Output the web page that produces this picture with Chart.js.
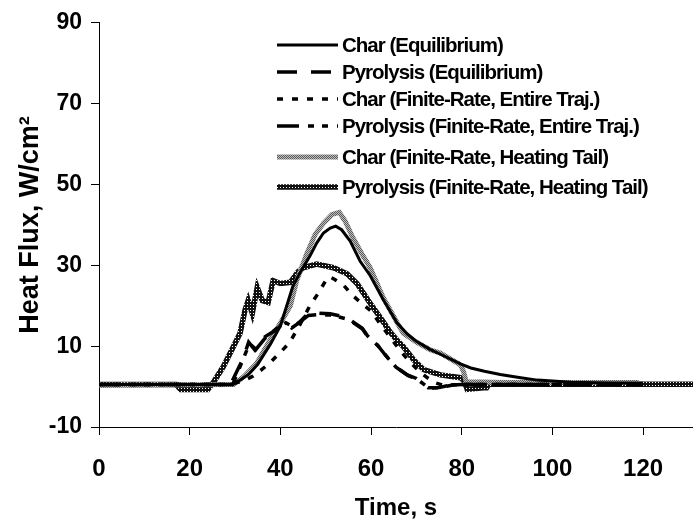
<!DOCTYPE html>
<html>
<head>
<meta charset="utf-8">
<script src="https://cdn.jsdelivr.net/npm/chart.js@4"></script>
<style>
  body { margin: 0; background: #fff; }
  canvas { display: block; }
</style>
</head>
<body>
<canvas id="graficaFlujo" width="693" height="526"></canvas>
<script>
// series labels
const seriesLabels = [
    'Char (Equilibrium)',
    'Pyrolysis (Equilibrium)',
    'Char (Finite-Rate, Entire Traj.)',
    'Pyrolysis (Finite-Rate, Entire Traj.)',
    'Char (Finite-Rate, Heating Tail)',
    'Pyrolysis (Finite-Rate, Heating Tail)'
];

// time (s) and heat flux (W/cm2) for each series
const charEqTime = [0, 29, 31, 33, 35, 37.8, 40, 42.8, 44.5, 46.6, 48, 49.5, 51, 52.2, 53.5, 55.4, 57.6, 59.8, 62.7, 65.7, 68, 70, 73, 75.3, 79.7, 82, 85, 88.5, 93, 96.7, 100, 104, 112, 120];
const charEqFlux = [0.5, 0.5, 1.5, 3, 5.5, 10.5, 15, 25, 28.5, 32.5, 35.5, 38, 39.2, 39.7, 38.8, 36, 31, 27.5, 21.5, 15.8, 13, 11.2, 9.2, 8, 5.6, 4.6, 3.8, 3.0, 2.2, 1.6, 1.4, 1.1, 0.9, 0.8];

const pyroEqTime = [0, 29, 31.8, 33, 34.4, 36.6, 39, 41, 42.5, 44, 46, 48, 51, 53, 55, 58, 59, 61.4, 63, 65.3, 68, 70, 72.6, 75, 78, 80, 120];
const pyroEqFlux = [0.5, 0.5, 7, 11, 9, 12.3, 14, 16, 14.5, 15.7, 18, 18.2, 18, 17.5, 16.8, 14.5, 12.8, 10.3, 8, 5, 2.9, 2.0, -0.3, -0.2, 0.5, 0.5, 0.5];

const charFrTime = [0, 29, 32, 34, 36, 38, 40, 42, 44.4, 46.5, 48, 49.9, 50.8, 52, 54, 56, 58, 60, 62, 64, 66, 68, 70, 72, 74, 76, 80, 120];
const charFrFlux = [0.5, 0.5, 1.5, 2.6, 4.3, 6.2, 8.5, 10.8, 15.5, 20, 22.5, 26, 27.2, 26.5, 25, 22.5, 20.5, 18.7, 15.5, 12.5, 9.5, 6.8, 4.5, 2.5, 1, 0.3, 0.5, 0.5];

const pyroFrTime = [0, 29.5, 32, 33.2, 34.6, 36.8, 39, 41.2, 42.7, 44.2, 46.2, 48, 51, 53, 55, 58.2, 59.2, 61.6, 63.2, 65.5, 68.2, 70.2, 72.8, 75, 78, 80, 120];
const pyroFrFlux = [0.5, 0.5, 7.4, 10.6, 9.2, 12.2, 14.2, 15.8, 14.8, 15.9, 17.6, 17.8, 17.7, 17.2, 16.6, 14.2, 12.6, 10, 7.8, 4.8, 2.7, 1.8, -0.4, -0.3, 0.4, 0.5, 0.5];

const charTailTime = [0, 29.6, 32, 34.8, 37.7, 40, 42.2, 43.6, 45.8, 47.7, 49.5, 51.4, 53, 54.3, 56, 58, 59.8, 62.7, 65.7, 67.1, 70, 73, 75.3, 79.7, 80.4, 81, 90, 100, 110, 119];
const charTailFlux = [0.3, 0.5, 2.5, 5.8, 11.5, 15.7, 20, 26.2, 32.8, 37.7, 40.4, 42.6, 43.1, 40.9, 36.8, 32.8, 29.4, 22, 15.9, 13.2, 11, 9.1, 8.3, 5.4, 3.7, 1.2, 1, 1, 1, 1];

const pyroTailTime = [0, 17, 18, 24, 25.2, 27.4, 29.6, 31.1, 32.2, 32.9, 33.8, 34.9, 36, 37.3, 38.4, 40, 42.2, 43.9, 45, 48, 51.7, 54.7, 56.9, 59.8, 62.7, 64.2, 65.7, 67.2, 69.4, 71.6, 75.3, 79.7, 80.5, 81.2, 84.8, 85.5, 86, 131];
const pyroTailFlux = [0.5, 0.5, -0.7, -0.7, 1, 4.9, 9.8, 13.2, 18.9, 21.3, 18.1, 24.5, 21.3, 20.8, 26.2, 25.5, 25.8, 28.4, 29.4, 30.3, 29.4, 27.9, 25.5, 20.6, 16, 13.5, 11.5, 9.8, 6.6, 4.2, 2.9, 2.2, 1.5, -0.7, -0.3, -0.3, 0.6, 0.6];

// axis ticks
const xTicks = [0, 20, 40, 60, 80, 100, 120];
const yTicks = [-10, 10, 30, 50, 70, 90];

function puntos(t, f) {
    return t.map((v, i) => ({ x: v, y: f[i] }));
}

// hatched line fills for the heating tail curves
function patron(size, paint) {
    const c = document.createElement('canvas');
    c.width = size;
    c.height = size;
    paint(c.getContext('2d'));
    return c.getContext('2d').createPattern(c, 'repeat');
}
const ctx = document.getElementById('graficaFlujo').getContext('2d');
const grisTramado = patron(2, g => {
    g.fillStyle = '#bdbdbd';
    g.fillRect(0, 0, 2, 2);
    g.fillStyle = '#5a5a5a';
    g.fillRect(0, 0, 1, 1);
    g.fillRect(1, 1, 1, 1);
});
const negroTramado = patron(3, g => {
    g.fillStyle = '#111111';
    g.fillRect(0, 0, 3, 3);
    g.fillStyle = '#ffffff';
    g.fillRect(1, 1, 1, 1);
});

// legend drawn inside the plot, top right
const leyenda = {
    id: 'leyenda',
    afterDatasetsDraw(chart) {
        const c = chart.ctx;
        const filas = [45, 72, 99, 126, 157, 187];
        c.save();
        chart.data.datasets.forEach((ds, i) => {
            const y = filas[i];
            c.beginPath();
            c.strokeStyle = ds.borderColor;
            c.lineWidth = ds.borderWidth;
            c.setLineDash(ds.borderDash || []);
            c.moveTo(277, y);
            c.lineTo(338, y);
            c.stroke();
            c.setLineDash([]);
            c.fillStyle = '#000';
            c.font = 'bold 20.5px "Liberation Sans", Arial';
            c.letterSpacing = '-1px';
            c.textBaseline = 'middle';
            c.fillText(ds.label, 342, y + 1);
            c.letterSpacing = '0px';
        });
        c.restore();
    }
};

const fuente = { family: '"Liberation Sans", Arial', weight: 'bold' };

new Chart(ctx, {
    type: 'line',
    data: {
        datasets: [
            {
                label: seriesLabels[0],
                data: puntos(charEqTime, charEqFlux),
                borderColor: '#000',
                borderWidth: 3
            },
            {
                label: seriesLabels[1],
                data: puntos(pyroEqTime, pyroEqFlux),
                borderColor: '#000',
                borderWidth: 3.5,
                borderDash: [20, 14]
            },
            {
                label: seriesLabels[2],
                data: puntos(charFrTime, charFrFlux),
                borderColor: '#000',
                borderWidth: 3.5,
                borderDash: [6, 9]
            },
            {
                label: seriesLabels[3],
                data: puntos(pyroFrTime, pyroFrFlux),
                borderColor: '#000',
                borderWidth: 3.5,
                borderDash: [22, 9, 6, 8, 6, 9]
            },
            {
                label: seriesLabels[4],
                data: puntos(charTailTime, charTailFlux),
                borderColor: grisTramado,
                borderWidth: 5
            },
            {
                label: seriesLabels[5],
                data: puntos(pyroTailTime, pyroTailFlux),
                borderColor: negroTramado,
                borderWidth: 5.5
            }
        ]
    },
    options: {
        responsive: false,
        animation: false,
        layout: { padding: { top: 19, right: 0, bottom: 0, left: 0 } },
        elements: {
            point: { radius: 0 },
            line: { tension: 0, fill: false, borderCapStyle: 'butt' }
        },
        plugins: {
            legend: { display: false },
            tooltip: { enabled: false }
        },
        scales: {
            x: {
                type: 'linear',
                min: 0,
                max: 131,
                afterBuildTicks: s => { s.ticks = xTicks.map(v => ({ value: v })); },
                afterFit: s => { s.height = 99; },
                grid: { drawOnChartArea: false, tickLength: 8, color: '#000' },
                border: { color: '#000', width: 1 },
                ticks: { color: '#000', padding: 20, maxRotation: 0, font: { ...fuente, size: 24 } },
                title: {
                    display: true,
                    text: 'Time, s',
                    color: '#000',
                    padding: { top: 0, bottom: 3 },
                    font: { ...fuente, size: 24 }
                }
            },
            y: {
                type: 'linear',
                min: -10,
                max: 90,
                afterBuildTicks: s => { s.ticks = yTicks.map(v => ({ value: v })); },
                afterFit: s => { s.width = 99; },
                grid: { drawOnChartArea: false, tickLength: 8, color: '#000' },
                border: { color: '#000', width: 1 },
                ticks: { color: '#000', padding: 9, font: { ...fuente, size: 23 } },
                title: {
                    display: true,
                    text: 'Heat Flux, W/cm²',
                    color: '#000',
                    padding: { top: 14, bottom: 0 },
                    font: { ...fuente, size: 27 }
                }
            }
        }
    },
    plugins: [leyenda]
});
</script>
</body>
</html>
